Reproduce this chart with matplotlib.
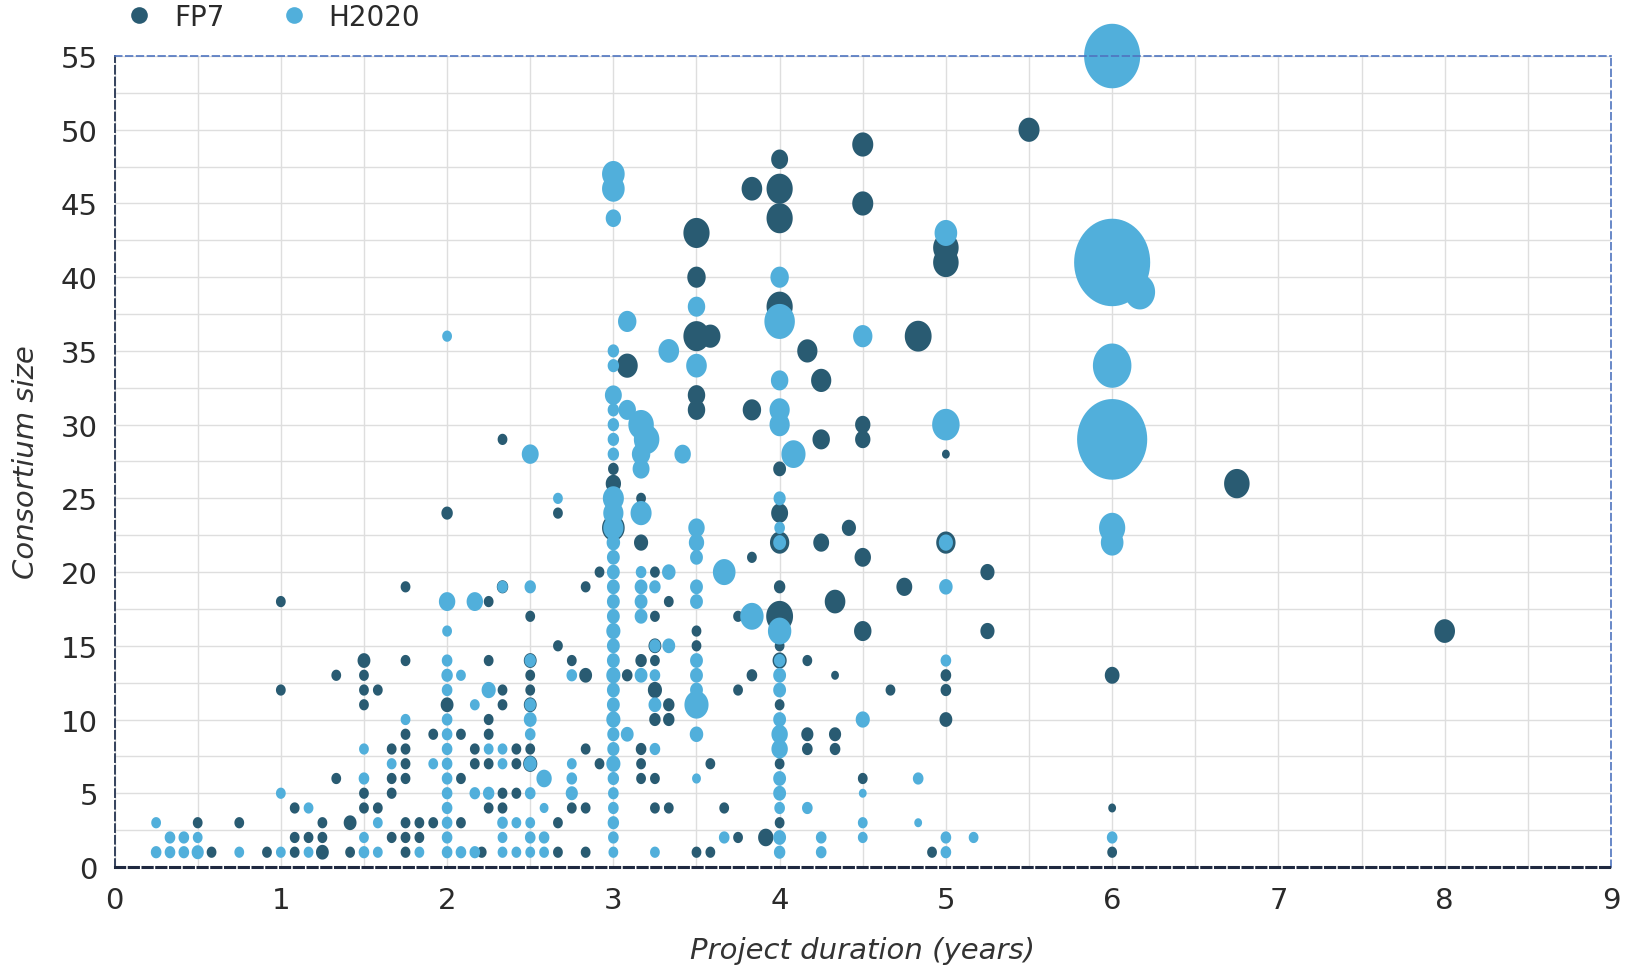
import numpy as np
import matplotlib
matplotlib.use("Agg")
import matplotlib.pyplot as plt
from matplotlib.path import Path
from matplotlib.lines import Line2D
from matplotlib.ticker import MultipleLocator

# ---------------- data ----------------
# project duration in months, consortium size (partners), relative budget (bubble size)
fp7_months = [
    12, 18, 16, 18, 12, 18, 18, 16, 18, 13, 18, 6, 9, 15, 17, 13, 14, 15, 7, 11, 13, 15, 17,
    35, 21, 28, 34, 27, 30, 32,
    21, 27, 30, 33, 30, 34, 19, 28, 30, 24, 28, 30, 27,
    21, 23, 25, 27, 20, 21, 26, 29, 30, 34,
    21, 26, 27, 29, 30, 35, 20, 21, 25, 20, 28, 29,
    19, 27, 28, 33, 34, 21, 22, 23, 25, 32, 20, 21, 22, 21, 26.5, 32, 34,
    28, 32, 24, 36, 36, 36,
    46, 39, 40, 39, 45, 48, 42, 42, 48, 39, 38, 39, 48, 37, 46, 39, 45, 40, 48, 39, 40, 38,
    38, 43, 48, 38, 39, 39, 40, 44, 48, 45, 47, 42, 43,
    48, 46, 48, 48, 42, 42, 48, 42, 43, 37, 42, 42, 46, 48, 38, 48, 38, 48, 48,
    54, 54, 60, 60, 58, 50, 51, 54, 54, 51, 60,
    53, 51, 60, 54, 63, 57, 52, 54, 63, 50, 52, 60, 56, 60, 50, 52, 50, 52, 54, 59, 60,
    66, 81, 96, 72, 72, 72,
]
fp7_partners = [
    18, 14, 13, 13, 12, 12, 11, 6, 5, 4, 4, 3, 3, 3, 3, 2, 2, 2, 1, 1, 1, 1, 1,
    20, 19, 19, 19, 18, 17, 15,
    14, 14, 14, 14, 13, 13, 12, 12, 12, 11, 11, 11, 10,
    9, 9, 9, 9, 8, 8, 8, 8, 8, 8,
    7, 7, 7, 7, 7, 7, 6, 6, 6, 5, 5, 5,
    4, 4, 4, 4, 4, 3, 3, 3, 3, 3, 2, 2, 2, 1, 1, 1, 1,
    29, 24, 24, 27, 26, 23,
    21, 20, 18, 17, 17, 17, 16, 15, 15, 15, 14, 14, 14, 13, 13, 12, 12, 11, 11, 10, 10, 8,
    7, 7, 7, 6, 6, 4, 4, 4, 3, 2, 2, 1, 1,
    48, 46, 46, 44, 43, 40, 38, 36, 36, 34, 32, 31, 31, 27, 25, 24, 22, 22, 19,
    49, 45, 42, 41, 36, 35, 33, 30, 29, 29, 28,
    23, 22, 22, 21, 20, 19, 18, 16, 16, 14, 13, 13, 12, 12, 9, 9, 8, 8, 6, 1, 10,
    50, 26, 16, 13, 4, 1,
]
fp7_budget = [
    2, 4, 2, 2, 2, 2, 2, 2, 2, 2, 2, 2, 2, 2, 4, 2, 2, 2, 2, 2, 2, 4, 2,
    2, 2, 3, 2, 2, 2, 2,
    2, 2, 4, 2, 2, 4, 2, 2, 2, 4, 2, 4, 2,
    2, 2, 2, 2, 2, 2, 2, 2, 2, 2,
    2, 2, 2, 2, 5, 2, 2, 2, 2, 2, 2, 2,
    2, 2, 2, 2, 2, 2, 2, 2, 2, 2, 2, 2, 2, 2, 2, 2, 2,
    2, 2, 3, 2.5, 6, 14,
    2, 2, 2, 2, 2, 20, 2, 2, 2, 4, 3, 2, 5, 2.5, 2.5, 5, 2, 3, 2, 3, 3, 2.5,
    2, 2, 2, 2, 2, 2, 2, 2, 2, 2, 6, 2, 2,
    7.5, 11.5, 19, 19, 19, 9, 19, 19, 11, 12, 8, 8, 9, 4, 2, 7.5, 5, 10, 3,
    12, 12, 18, 18, 20, 11, 11, 6, 6, 8, 1,
    5, 6.5, 10, 7, 5, 6.5, 11.5, 8, 5, 2, 1, 2.5, 2, 2.5, 3.5, 3.5, 2.5, 2.5, 2, 2, 4,
    12, 18, 11.5, 5.5, 1, 2,
]

h2020_months = [
    18, 18, 12, 14, 3, 4, 5, 6, 18, 3, 4, 5, 6, 9, 12, 14, 18,
    28, 30, 24, 26, 24, 24, 30, 24, 25, 33, 24, 27, 26, 30, 21, 24, 30, 24, 30, 24, 27, 28,
    20, 23, 24, 28, 30, 33, 24, 31, 33, 24, 26, 27, 30, 33, 24, 31,
    19, 24, 28, 29, 30, 24, 28, 30, 31, 19, 22, 24, 25, 26, 28, 29, 30, 31,
    24, 30, 32,
    36, 36, 36, 36, 36, 36, 36, 36, 36, 36, 36, 36, 36, 36, 36, 36, 36, 36,
    36, 36, 36, 36, 36, 36, 36, 36, 36, 36, 36, 36, 36, 36, 36, 36, 36,
    42, 38, 40, 44, 38, 39, 42, 38, 42, 38, 46, 48, 39, 40, 42, 48, 38, 39, 42,
    48, 42, 48, 39, 42, 48, 37, 42, 48, 39, 48, 42, 48, 48, 48, 44, 48, 39, 48,
    48, 42, 37, 48, 40, 42, 48, 37, 48, 48, 38, 38.4, 38, 38, 41, 49, 38, 48, 48, 48, 42, 42,
    60, 54, 60, 60, 60, 60, 54, 58, 54, 50, 54, 58, 51, 54, 60, 62, 51, 60,
    72, 72, 74, 72, 72, 72, 72, 72,
]
h2020_partners = [
    8, 6, 5, 4, 3, 2, 2, 2, 2, 1, 1, 1, 1, 1, 1, 1, 1,
    19, 19, 18, 18, 16, 14, 14, 13, 13, 13, 12, 12, 11, 11, 10, 10, 10, 9, 9, 8, 8, 8,
    7, 7, 7, 7, 7, 7, 6, 6, 6, 5, 5, 5, 5, 5, 4, 4,
    3, 3, 3, 3, 3, 2, 2, 2, 2, 1, 1, 1, 1, 1, 1, 1, 1, 1,
    36, 28, 25,
    1, 2, 3, 4, 5, 6, 7, 8, 9, 10, 11, 12, 13, 14, 15, 16, 17, 18,
    19, 20, 21, 22, 23, 24, 25, 28, 29, 30, 31, 32, 34, 35, 44, 46, 47,
    21, 20, 20, 20, 19, 19, 19, 18, 18, 17, 17, 16, 15, 15, 14, 14, 13, 13, 13,
    13, 12, 12, 11, 11, 10, 9, 9, 9, 8, 8, 6, 6, 5, 4, 2, 2, 1, 1,
    40, 38, 37, 37, 35, 34, 33, 31, 31, 30, 30, 29, 28, 27, 28, 28, 24, 25, 23, 22, 23, 22,
    43, 36, 30, 22, 19, 14, 10, 6, 5, 4, 3, 3, 2, 2, 2, 2, 1, 1,
    55, 41, 39, 34, 29, 23, 22, 2,
]
h2020_budget = [
    2, 2.5, 2, 2, 2, 2.5, 2.5, 2, 2, 2.5, 2.5, 2.5, 3.5, 2, 2, 2, 2.5,
    2.5, 3, 7, 7, 2, 2.5, 3, 3, 2, 2.5, 2.5, 5, 2, 3, 2, 2.5, 4, 2.5, 2.5, 2.5, 2, 2,
    2, 2, 2.5, 2, 4, 2, 2.5, 6, 2.5, 2.5, 2.5, 3, 2.5, 3.5, 2.5, 1.5,
    2, 2.5, 2.5, 2, 2, 2.5, 2, 2.5, 2.5, 2, 2, 2.5, 2.5, 2.5, 2, 2, 2, 2,
    2, 7.5, 2,
    2, 2.5, 3, 2.5, 2.5, 3, 5, 3.5, 3.5, 5, 4, 4, 5, 4, 4, 5, 4, 4,
    4, 4, 4, 4.5, 11, 11, 12, 3, 3, 3, 3, 7.5, 3, 3, 6, 14, 14,
    4, 2.5, 4.5, 14, 4, 3, 4, 4, 4, 4, 15, 15, 3, 4, 4, 3, 4, 2.5, 4,
    4, 4, 4, 4, 16, 4, 4, 4.5, 7, 2.5, 7, 1.5, 4, 4, 2.5, 2.5, 4, 2, 3,
    9, 8, 9, 26, 11.5, 11.5, 8, 8, 11, 11, 18, 18, 9, 7.5, 7, 16, 12, 3.5, 2.5, 4, 7, 6,
    14, 10, 21, 5, 4.5, 2.5, 5, 2.5, 1, 2.5, 2, 1, 2.5, 2, 2.5, 2, 2.5, 2.5,
    90, 166, 26, 42, 141, 19, 14, 2.5,
]

series_names = ["FP7", "H2020"]
x_ticks = [0, 1, 2, 3, 4, 5, 6, 7, 8, 9]
y_ticks = [0, 5, 10, 15, 20, 25, 30, 35, 40, 45, 50, 55]

# ---------------- style ----------------
C_FP7 = "#295b72"
C_H2020 = "#51afdb"
SIZE_SCALE = 23.8
SIZE_BASE = 18.0
FONT = "DejaVu Sans"

plt.rcParams["font.family"] = [FONT]

fig = plt.figure(figsize=(16.32, 9.70), dpi=100)
ax = fig.add_axes([0.0702, 0.1052, 0.9169, 0.836])

# slightly tall ellipse marker (the source chart is stretched vertically)
theta = np.linspace(0, 2 * np.pi, 73)
ell_verts = np.column_stack([np.cos(theta) / 1.15, np.sin(theta)])
ellipse = Path(ell_verts, closed=True)

for months, partners, budget, col in [
    (fp7_months, fp7_partners, fp7_budget, C_FP7),
    (h2020_months, h2020_partners, h2020_budget, C_H2020),
]:
    xs = np.asarray(months, dtype=float) / 12.0
    ys = np.asarray(partners, dtype=float)
    ss = np.asarray(budget, dtype=float) * SIZE_SCALE + SIZE_BASE
    ax.scatter(xs, ys, s=ss, c=col, marker=ellipse, linewidths=0,
               clip_on=False, zorder=2)

ax.set_xlim(0, 9)
ax.set_ylim(0, 55)
ax.set_xticks(x_ticks)
ax.set_yticks(y_ticks)
ax.xaxis.set_minor_locator(MultipleLocator(0.5))
ax.yaxis.set_minor_locator(MultipleLocator(2.5))
ax.grid(True, which="both", color="#dedede", linewidth=1.0)
ax.set_axisbelow(True)
ax.tick_params(which="both", length=0)
ax.tick_params(axis="x", pad=14, labelsize=21, labelcolor="#2a2a2a")
ax.tick_params(axis="y", pad=12, labelsize=21, labelcolor="#2a2a2a")

for side in ["top", "right"]:
    ax.spines[side].set_color("#4f74bf")
    ax.spines[side].set_linestyle((0, (4, 2.5)))
    ax.spines[side].set_linewidth(1.2)
ax.spines["left"].set_color("#34415c")
ax.spines["left"].set_linestyle((0, (4, 2)))
ax.spines["left"].set_linewidth(1.4)
ax.spines["bottom"].set_color("#1f2940")
ax.spines["bottom"].set_linestyle((0, (3, 1.5)))
ax.spines["bottom"].set_linewidth(2.2)

ax.set_xlabel("Project duration (years)", fontsize=21, style="italic",
              color="#333333")
ax.set_ylabel("Consortium size", fontsize=21, style="italic",
              color="#333333")
ax.xaxis.set_label_coords(0.5, -0.085)
ax.yaxis.set_label_coords(-0.050, 0.5)

handles = [
    Line2D([], [], marker="o", linestyle="none", markersize=12,
           markerfacecolor=C_FP7, markeredgewidth=0),
    Line2D([], [], marker="o", linestyle="none", markersize=12,
           markerfacecolor=C_H2020, markeredgewidth=0),
]
leg = fig.legend(handles, series_names, loc="center left",
                 bbox_to_anchor=(0.0786, 0.9814), ncol=2, frameon=False,
                 fontsize=20, handlelength=0.8, handletextpad=0.85,
                 columnspacing=2.1, borderpad=0, borderaxespad=0)
for t in leg.get_texts():
    t.set_color("#2a2a2a")

fig.savefig("out.png", dpi=100)
